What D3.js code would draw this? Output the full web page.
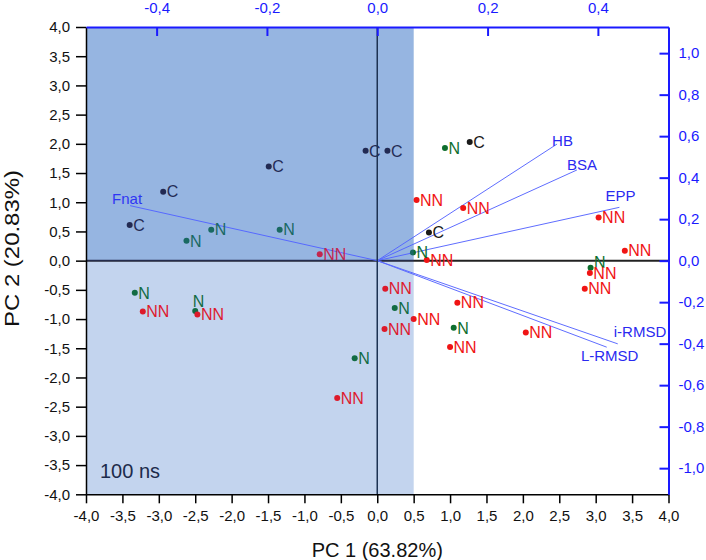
<!DOCTYPE html>
<html>
<head>
<meta charset="utf-8">
<script src="https://cdn.jsdelivr.net/npm/d3@7"></script>
<style>
  body { margin: 0; background: #fff; }
  svg { display: block; font-family: "Liberation Sans", Arial, sans-serif; }
</style>
</head>
<body>
<svg id="chart" width="706" height="560"></svg>
<script>
// scores (PC 1, PC 2)
const cPC1 = [-3.40, -2.94, -1.49, -0.16, 0.14, 1.27, 0.71];
const cPC2 = [0.61, 1.18, 1.61, 1.88, 1.88, 2.03, 0.48];

const nPC1 = [-2.62, -2.28, -1.34, 0.93, 0.49, 2.93, 0.24, 1.05, -0.31, -3.33, -2.50];
const nPC2 = [0.34, 0.53, 0.53, 1.93, 0.14, -0.12, -0.81, -1.15, -1.67, -0.55, -0.86];

const nnPC1 = [-0.79, 0.54, 1.18, 0.68, 3.04, 3.40, 2.92, 2.85, 2.04, 0.11, 0.50, 0.10, 1.10, 1.00, -0.55, -3.22, -2.47];
const nnPC2 = [0.11, 1.04, 0.90, 0.01, 0.74, 0.17, -0.21, -0.48, -1.23, -0.48, -1.00, -1.17, -0.72, -1.48, -2.35, -0.87, -0.92];

// loadings (top / right axes)
const loadingNames = ['Fnat', 'HB', 'BSA', 'EPP', 'i-RMSD', 'L-RMSD'];
const loadingPC1 = [-0.448, 0.326, 0.362, 0.439, 0.436, 0.416];
const loadingPC2 = [0.265, 0.562, 0.437, 0.257, -0.401, -0.417];

const pcTicks = [-4, -3.5, -3, -2.5, -2, -1.5, -1, -0.5, 0, 0.5, 1, 1.5, 2, 2.5, 3, 3.5, 4];
const topTicks = [-0.4, -0.2, 0, 0.2, 0.4];
const rightTicks = [-1, -0.8, -0.6, -0.4, -0.2, 0, 0.2, 0.4, 0.6, 0.8, 1];

const xTitle = 'PC 1 (63.82%)';
const yTitle = 'PC 2 (20.83%)';
const note = '100 ns';

// ---- drawing ----
const width = 706;
const height = 560;
const margin = { top: 27, right: 37.5, bottom: 65.7, left: 86 };

const groups = [
  { label: 'C', xs: cPC1, ys: cPC2, color: '#1a1a1a' },
  { label: 'N', xs: nPC1, ys: nPC2, color: '#0e6e2e' },
  { label: 'NN', xs: nnPC1, ys: nnPC2, color: '#f01414' }
];

// a couple of labels that sit off the usual spot
const labelTweaks = { 'N-10': { dx: -2.5, dy: -10 }, 'N-5': { dx: 3.5, dy: -5.5 } };
const loadingLabelPos = {
  'Fnat': { anchor: 'middle', dx: -3, dy: -2 },
  'HB': { anchor: 'start', dx: -5, dy: 2 },
  'BSA': { anchor: 'start', dx: -10, dy: 0 },
  'EPP': { anchor: 'middle', dx: 1, dy: -6 },
  'i-RMSD': { anchor: 'start', dx: -4, dy: -7 },
  'L-RMSD': { anchor: 'middle', dx: 3, dy: 14 }
};

const x = d3.scaleLinear().domain([-4, 4]).range([margin.left, width - margin.right]);
const y = d3.scaleLinear().domain([-4, 4]).range([height - margin.bottom, margin.top]);
const xLoad = d3.scaleLinear().domain([-0.528, 0.528]).range(x.range());
const yLoad = d3.scaleLinear().domain([-1.126, 1.126]).range(y.range());

const fmt = d3.formatLocale({ decimal: ',', thousands: '.', grouping: [3], currency: ['', ''], minus: '-' }).format('.1f');

const svg = d3.select('#chart');

const shadeRect = (g, y0, y1, fill, opacity) =>
  g.append('rect')
    .attr('x', x(-4))
    .attr('width', x(0.5) - x(-4))
    .attr('y', y(y1))
    .attr('height', y(y0) - y(y1))
    .attr('fill', fill)
    .attr('opacity', opacity);

// base shading
shadeRect(svg, 0, 4, '#b5d3d7', 1);
shadeRect(svg, -4, 0, '#d3e3ec', 1);

// horizontal zero line
svg.append('line')
  .attr('x1', x(-4)).attr('x2', x(4))
  .attr('y1', y(0)).attr('y2', y(0))
  .attr('stroke', '#222').attr('stroke-width', 2);

// loading vectors
const loadings = loadingNames.map((name, i) => ({ name, lx: loadingPC1[i], ly: loadingPC2[i] }));

svg.append('g')
  .selectAll('line')
  .data(loadings)
  .join('line')
    .attr('x1', xLoad(0)).attr('y1', yLoad(0))
    .attr('x2', d => xLoad(d.lx)).attr('y2', d => yLoad(d.ly))
    .attr('stroke', '#5f6dff')
    .attr('stroke-width', 1);

svg.append('g')
  .selectAll('text')
  .data(loadings)
  .join('text')
    .attr('x', d => xLoad(d.lx) + loadingLabelPos[d.name].dx)
    .attr('y', d => yLoad(d.ly) + loadingLabelPos[d.name].dy)
    .attr('text-anchor', d => loadingLabelPos[d.name].anchor)
    .attr('font-size', 15)
    .attr('fill', '#2a2af0')
    .text(d => d.name);

// score points
const points = groups.flatMap(g =>
  g.xs.map((v, i) => ({ key: `${g.label}-${i}`, label: g.label, px: v, py: g.ys[i], color: g.color })));

const pts = svg.append('g');

pts.selectAll('circle')
  .data(points)
  .join('circle')
    .attr('cx', d => x(d.px))
    .attr('cy', d => y(d.py))
    .attr('r', 3)
    .attr('fill', d => d.color);

pts.selectAll('text')
  .data(points)
  .join('text')
    .attr('x', d => x(d.px) + (labelTweaks[d.key] ? labelTweaks[d.key].dx : 3.5))
    .attr('y', d => y(d.py) + (labelTweaks[d.key] ? labelTweaks[d.key].dy : 0))
    .attr('dy', '0.36em')
    .attr('font-size', 16)
    .attr('fill', d => d.color)
    .text(d => d.label);

// tint over everything in the shaded zone
shadeRect(svg, 0, 4, 'rgb(60,90,255)', 0.25);
shadeRect(svg, -4, 0, 'rgb(60,90,255)', 0.1);

// vertical zero line
svg.append('line')
  .attr('x1', x(0)).attr('x2', x(0))
  .attr('y1', y(-4)).attr('y2', y(4))
  .attr('stroke', '#1d3252').attr('stroke-width', 1.5);

// axes
const styleAxis = (g, color, width) => {
  g.attr('font-family', null).attr('font-size', 15);
  g.select('.domain').attr('stroke', color).attr('stroke-width', width);
  g.selectAll('.tick line').attr('stroke', color).attr('stroke-width', width);
  g.selectAll('.tick text').attr('fill', color === '#000' ? '#111' : color);
};

svg.append('g')
  .attr('transform', `translate(0,${y(-4)})`)
  .call(d3.axisBottom(x).tickValues(pcTicks).tickFormat(fmt).tickSize(9).tickSizeOuter(0).tickPadding(7))
  .call(g => styleAxis(g, '#000', 1.5));

svg.append('g')
  .attr('transform', `translate(${x(-4)},0)`)
  .call(d3.axisLeft(y).tickValues(pcTicks).tickFormat(fmt).tickSize(10).tickSizeOuter(0).tickPadding(6))
  .call(g => styleAxis(g, '#000', 1.5));

svg.append('g')
  .attr('transform', `translate(0,${y(4)})`)
  .call(d3.axisTop(xLoad).tickValues(topTicks).tickFormat(fmt).tickSizeInner(-9).tickSizeOuter(0).tickPadding(14))
  .call(g => styleAxis(g, '#1a1aff', 2));

svg.append('g')
  .attr('transform', `translate(${x(4)},0)`)
  .call(d3.axisRight(yLoad).tickValues(rightTicks).tickFormat(fmt).tickSizeInner(-9).tickSizeOuter(0).tickPadding(10))
  .call(g => styleAxis(g, '#1a1aff', 2));

// titles
svg.append('text')
  .attr('x', x(0))
  .attr('y', 557)
  .attr('text-anchor', 'middle')
  .attr('font-size', 20)
  .attr('fill', '#111')
  .text(xTitle);

svg.append('text')
  .attr('transform', 'translate(19,248.5) rotate(-90)')
  .attr('text-anchor', 'middle')
  .attr('font-size', 21)
  .attr('textLength', 157)
  .attr('lengthAdjust', 'spacingAndGlyphs')
  .attr('fill', '#111')
  .text(yTitle);

svg.append('text')
  .attr('x', x(-4) + 14)
  .attr('y', y(-4) - 16)
  .attr('font-size', 20)
  .attr('fill', '#1d2b4b')
  .text(note);
</script>
</body>
</html>
